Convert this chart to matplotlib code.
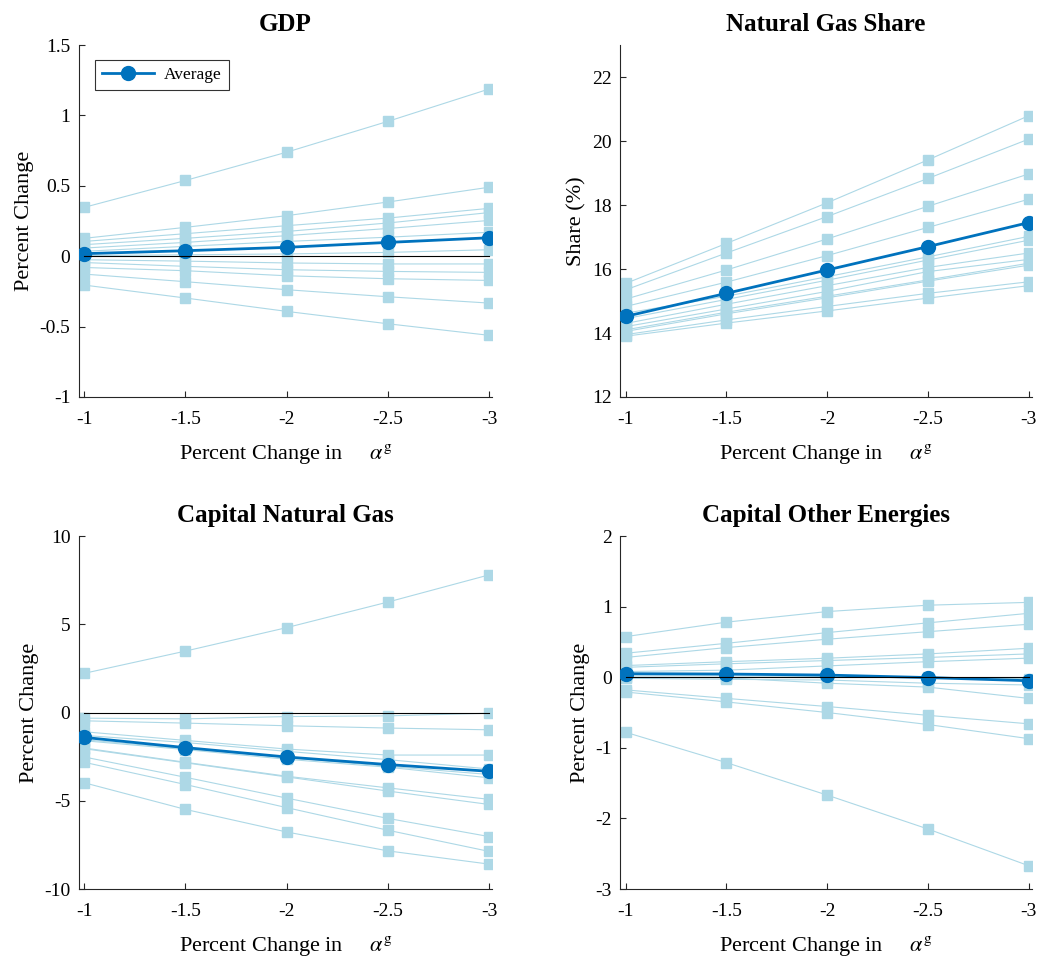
import matplotlib
matplotlib.use("Agg")
import matplotlib.pyplot as plt
import numpy as np

plt.rcParams['font.family'] = ['Liberation Serif', 'DejaVu Serif']
plt.rcParams['mathtext.fontset'] = 'stix'
plt.rcParams['axes.unicode_minus'] = False

x = [-1, -1.5, -2, -2.5, -3]
x_ticklabels = ['-1', '-1.5', '-2', '-2.5', '-3']

# ---- GDP (percent change) ----
gdp_series = [
    [0.347, 0.538, 0.739, 0.958, 1.188],
    [0.127, 0.205, 0.288, 0.385, 0.490],
    [0.105, 0.160, 0.217, 0.271, 0.340],
    [0.082, 0.127, 0.176, 0.236, 0.310],
    [0.058, 0.098, 0.146, 0.197, 0.254],
    [0.035, 0.070, 0.105, 0.135, 0.170],
    [0.005, 0.010, 0.016, 0.027, 0.046],
    [-0.025, -0.035, -0.048, -0.055, -0.055],
    [-0.045, -0.072, -0.096, -0.108, -0.115],
    [-0.080, -0.103, -0.139, -0.160, -0.172],
    [-0.127, -0.181, -0.238, -0.288, -0.333],
    [-0.205, -0.297, -0.392, -0.480, -0.562],
]
gdp_avg = [0.018, 0.039, 0.063, 0.098, 0.131]

# ---- Natural gas share (%) ----
share_series = [
    [15.55, 16.80, 18.07, 19.41, 20.79],
    [15.35, 16.50, 17.64, 18.83, 20.06],
    [15.06, 15.97, 16.94, 17.96, 18.97],
    [14.83, 15.59, 16.42, 17.30, 18.18],
    [14.62, 15.15, 15.76, 16.38, 17.02],
    [14.45, 15.05, 15.65, 16.28, 16.90],
    [14.30, 14.90, 15.48, 16.05, 16.50],
    [14.20, 14.75, 15.30, 15.92, 16.30],
    [14.10, 14.65, 15.15, 15.66, 16.18],
    [14.05, 14.60, 15.10, 15.62, 16.12],
    [13.95, 14.41, 14.83, 15.24, 15.60],
    [13.90, 14.31, 14.69, 15.09, 15.48],
]
share_avg = [14.52, 15.24, 15.97, 16.70, 17.45]

# ---- Capital natural gas (percent change) ----
kng_series = [
    [2.22, 3.48, 4.81, 6.26, 7.80],
    [-0.32, -0.36, -0.23, -0.19, -0.04],
    [-0.47, -0.60, -0.75, -0.88, -0.98],
    [-1.09, -1.58, -2.07, -2.41, -2.41],
    [-1.30, -1.70, -2.20, -2.67, -3.20],
    [-1.54, -2.05, -2.55, -3.05, -3.51],
    [-1.60, -2.10, -2.65, -3.10, -3.70],
    [-2.01, -2.82, -3.61, -4.27, -4.92],
    [-2.05, -2.85, -3.65, -4.45, -5.21],
    [-2.52, -3.67, -4.85, -6.00, -7.03],
    [-2.82, -4.08, -5.39, -6.67, -7.87],
    [-3.98, -5.49, -6.77, -7.84, -8.59],
]
kng_avg = [-1.41, -1.99, -2.52, -2.95, -3.33]

# ---- Capital other energies (percent change) ----
koe_series = [
    [0.575, 0.78, 0.93, 1.02, 1.06],
    [0.34, 0.48, 0.632, 0.77, 0.905],
    [0.28, 0.42, 0.538, 0.645, 0.75],
    [0.165, 0.22, 0.269, 0.33, 0.41],
    [0.14, 0.19, 0.236, 0.28, 0.33],
    [0.08, 0.10, 0.16, 0.22, 0.27],
    [0.02, 0.02, 0.01, 0.0, -0.02],
    [-0.015, -0.03, -0.04, -0.085, -0.11],
    [0.0, -0.01, -0.085, -0.14, -0.30],
    [-0.18, -0.30, -0.415, -0.54, -0.66],
    [-0.21, -0.35, -0.50, -0.67, -0.87],
    [-0.78, -1.21, -1.67, -2.15, -2.67],
]
koe_avg = [0.05, 0.045, 0.03, -0.005, -0.05]

panels = [
    dict(title='GDP', series=gdp_series, avg=gdp_avg, ylabel='Percent Change',
         ylim=(-1, 1.5), yticks=[-1, -0.5, 0, 0.5, 1, 1.5],
         yticklabels=['-1', '-0.5', '0', '0.5', '1', '1.5'], zero=True, legend=True,
         pos=[0.0758, 0.5856, 0.398, 0.3674]),
    dict(title='Natural Gas Share', series=share_series, avg=share_avg, ylabel='Share (%)',
         ylim=(12, 23), yticks=[12, 14, 16, 18, 20, 22],
         yticklabels=['12', '14', '16', '18', '20', '22'], zero=False, legend=False,
         pos=[0.597, 0.5856, 0.396, 0.3674]),
    dict(title='Capital Natural Gas', series=kng_series, avg=kng_avg, ylabel='Percent Change',
         ylim=(-10, 10), yticks=[-10, -5, 0, 5, 10],
         yticklabels=['-10', '-5', '0', '5', '10'], zero=True, legend=False,
         pos=[0.0758, 0.072, 0.398, 0.3685]),
    dict(title='Capital Other Energies', series=koe_series, avg=koe_avg, ylabel='Percent Change',
         ylim=(-3, 2), yticks=[-3, -2, -1, 0, 1, 2],
         yticklabels=['-3', '-2', '-1', '0', '1', '2'], zero=True, legend=False,
         pos=[0.597, 0.072, 0.396, 0.3685]),
]

light = '#ADD8E6'
dark = '#0072BD'

fig = plt.figure(figsize=(10.39, 9.58), dpi=100)

for p in panels:
    ax = fig.add_axes(p['pos'])
    for s in p['series']:
        ax.plot(x, s, color=light, lw=0.8, marker='s', markersize=7,
                markerfacecolor=light, markeredgecolor=light, zorder=2)
    ax.plot(x, p['avg'], color=dark, lw=2.0, marker='o', markersize=10,
            markerfacecolor=dark, markeredgecolor=dark, zorder=4, label='Average')
    if p['zero']:
        ax.plot([x[0], x[-1]], [0, 0], color='black', lw=0.8, zorder=5)
    ax.set_xlim(-0.973, -3.015)
    ax.set_ylim(*p['ylim'])
    ax.set_xticks(x)
    ax.set_xticklabels(x_ticklabels)
    ax.set_yticks(p['yticks'])
    ax.set_yticklabels(p['yticklabels'])
    for sp in ['top', 'right']:
        ax.spines[sp].set_visible(False)
    for sp in ['left', 'bottom']:
        ax.spines[sp].set_color('#262626')
        ax.spines[sp].set_linewidth(0.8)
    ax.tick_params(direction='in', length=4, width=0.8, labelsize=14, colors='#262626',
                   labelcolor='black')
    ax.tick_params(axis='x', pad=10)
    ax.tick_params(axis='y', pad=6)
    ax.set_title(p['title'], fontsize=18, fontweight='bold', pad=10)
    ax.set_ylabel(p['ylabel'], fontsize=16)
    ax.set_xlabel(r'Percent Change in     $\alpha^{\mathrm{g}}$', fontsize=16, labelpad=10)
    if p['legend']:
        leg = ax.legend(loc='upper left', bbox_to_anchor=(0.039, 0.957), fontsize=12.5,
                        frameon=True, fancybox=False, edgecolor='black',
                        handlelength=3.0, handletextpad=0.6, borderpad=0.4,
                        borderaxespad=0)
        leg.get_frame().set_linewidth(0.8)

fig.savefig('out.png', dpi=100)
